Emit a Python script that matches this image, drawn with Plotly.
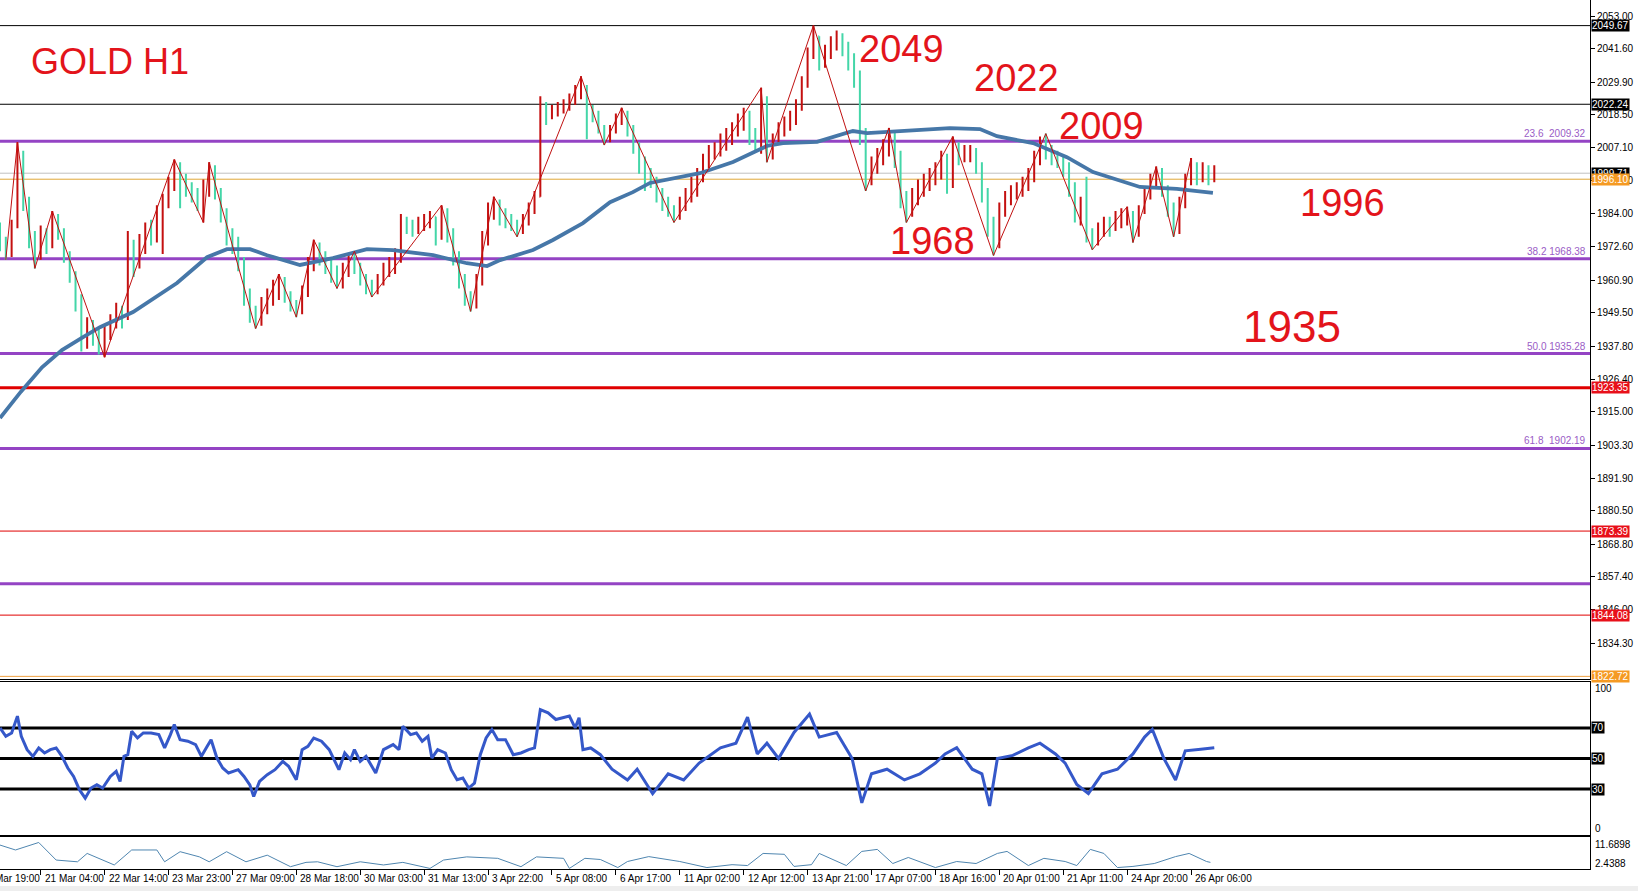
import plotly.graph_objects as go

# ---------------- data ----------------
first_open = 1980
closes = [1974, 1970, 1980, 2005, 1988, 1975, 1970, 1976, 1974, 1982,
          1978, 1970, 1963, 1955, 1940, 1944, 1941, 1938, 1942, 1946,
          1950, 1948, 1972, 1968, 1974, 1978, 1976, 1984, 1988, 1994,
          2001, 1995, 1993, 1991, 1988, 1993, 2000, 1992, 1984, 1976,
          1975, 1968, 1957, 1950, 1947, 1952, 1955, 1958, 1961, 1955,
          1952, 1950, 1956, 1966, 1972, 1969, 1966, 1964, 1961, 1965,
          1968, 1966, 1961, 1959, 1957, 1961, 1964, 1966, 1968, 1982,
          1980, 1979, 1981, 1982, 1983, 1977, 1985, 1978, 1970, 1962,
          1955, 1952, 1960, 1975, 1985, 1988, 1985, 1982, 1980, 1978,
          1982, 1986, 1990, 2020, 2019, 2020, 2021, 2022, 2024, 2027,
          2028, 2020, 2019, 2014, 2010, 2013, 2017, 2019, 2014, 2008,
          2003, 1998, 1995, 1991, 1988, 1985, 1984, 1987, 1990, 1993,
          1998, 2003, 2005, 2007, 2009, 2011, 2014, 2016, 2019, 2013,
          2010, 2024, 2005, 2010, 2013, 2015, 2017, 2022, 2030, 2040,
          2046, 2038, 2040, 2043, 2046, 2042, 2038, 2032, 2012, 1996,
          2001, 2004, 2007, 2012, 2004, 1990, 1984, 1990, 1993, 1995,
          1997, 1999, 2004, 1994, 2008, 2004, 2005, 2006, 2001, 1992,
          1980, 1974, 1985, 1989, 1991, 1992, 1994, 1997, 2003, 2009,
          2006, 2004, 2003, 2001, 1994, 1983, 1986, 1976, 1975, 1978,
          1980, 1979, 1982, 1983, 1984, 1977, 1985, 1990, 1996, 1998,
          1993, 1986, 1979, 1988, 1996, 2000, 1997, 2000, 1996, 1999]
highs = [1981, 1976, 1982, 2009, 2006, 1990, 1978, 1980, 1979, 1985,
         1984, 1979, 1971, 1964, 1956, 1948, 1947, 1944, 1945, 1949,
         1953, 1952, 1978, 1975, 1977, 1981, 1982, 1987, 1991, 1997,
         2003, 2002, 1998, 1995, 1993, 1996, 2002, 2001, 1993, 1986,
         1979, 1976, 1969, 1958, 1952, 1955, 1958, 1961, 1963, 1962,
         1957, 1954, 1959, 1969, 1975, 1974, 1971, 1969, 1966, 1967,
         1970, 1971, 1967, 1963, 1961, 1963, 1967, 1969, 1972, 1984,
         1983, 1982, 1983, 1984, 1985, 1983, 1987, 1986, 1979, 1971,
         1963, 1957, 1963, 1978, 1988, 1990, 1989, 1986, 1984, 1982,
         1984, 1988, 1992, 2025, 2023, 2022, 2023, 2024, 2026, 2029,
         2032, 2029, 2022, 2020, 2015, 2015, 2019, 2021, 2020, 2015,
         2009, 2004, 2000, 1997, 1993, 1990, 1987, 1990, 1993, 1997,
         2000, 2005, 2008, 2009, 2012, 2014, 2016, 2019, 2021, 2020,
         2014, 2028, 2025, 2012, 2016, 2018, 2020, 2024, 2032, 2042,
         2049.7, 2046, 2043, 2046, 2048, 2047, 2044, 2040, 2034, 2014,
         2004, 2007, 2010, 2014, 2013, 2006, 1992, 1993, 1996, 1998,
         2000, 2002, 2006, 2005, 2011, 2009, 2008, 2008, 2007, 2002,
         1993, 1983, 1988, 1992, 1994, 1995, 1997, 2000, 2006, 2011,
         2012, 2008, 2006, 2004, 2002, 1995, 1990, 1997, 1979, 1981,
         1983, 1983, 1985, 1986, 1986.5, 1985, 1987, 1993, 1998, 2000.5,
         2000, 1994, 1988, 1990, 1998, 2003.5, 2002, 2002, 2001, 2001]
lows = [1971, 1968, 1969, 1979, 1985, 1972, 1965, 1968, 1970, 1972,
        1975, 1967, 1960, 1950, 1936, 1937, 1938, 1935, 1934, 1940,
        1944, 1944, 1947, 1962, 1965, 1970, 1973, 1974, 1970, 1986,
        1992, 1986, 1990, 1988, 1985, 1981, 1990, 1989, 1981, 1973,
        1970, 1964, 1952, 1946, 1944, 1945, 1949, 1952, 1954, 1953,
        1950, 1948, 1949, 1955, 1964, 1966, 1963, 1960, 1958, 1958,
        1962, 1963, 1959, 1956, 1955, 1956, 1959, 1962, 1963, 1967,
        1977, 1976, 1977, 1978, 1979, 1973, 1975, 1974, 1966, 1958,
        1952, 1950, 1951, 1959, 1973, 1982, 1980, 1979, 1978, 1976,
        1977, 1980, 1984, 1990, 2015, 2017, 2018, 2019, 2020, 2022,
        2024, 2010, 2016, 2012, 2008, 2009, 2012, 2015, 2011, 2005,
        1998, 1992, 1993, 1988, 1985, 1983, 1981, 1982, 1985, 1988,
        1990, 1995, 2000, 2003, 2004, 2006, 2008, 2011, 2013, 2008,
        2006, 2005, 2002, 2003, 2008, 2011, 2013, 2015, 2020, 2028,
        2038, 2034, 2035, 2038, 2041, 2039, 2034, 2028, 2008, 1992,
        1994, 1998, 2001, 2004, 2000, 1986, 1981, 1983, 1987, 1990,
        1992, 1994, 1996, 1991, 1993, 2001, 2002, 2002, 1998, 1988,
        1976, 1969.5, 1972, 1983, 1987, 1989, 1990, 1992, 1995, 2001,
        2003, 2001, 2000, 1997, 1990, 1981, 1980, 1974, 1971.5, 1973,
        1976, 1976, 1978, 1979, 1980, 1974, 1976, 1984, 1989, 1993,
        1990, 1983, 1976, 1977, 1986, 1994, 1994, 1995, 1994, 1995]
opens = [first_open] + closes[:-1]
bar_start, bar_step = 12, 3
bars = [bar_start + bar_step * i for i in range(len(closes))]

zz_idx = [1, 3, 6, 9, 18, 30, 35, 36, 44, 48, 51, 54, 58, 61, 64, 76, 81, 85, 89, 100,
          104, 107, 116, 131, 132, 140, 149, 153, 156, 164, 171, 180, 188, 194, 195, 199, 202, 205]
zz_kind = "LHLHLHLHLHLHLHLHLHLHLHLHLHLHLHLHLHLHLH"

ma_bar = [12, 22.8, 33.7, 44.0, 54.9, 63.6, 80.7, 103.4, 118.9, 129.2, 141.1, 149.9, 166.9,
          183.9, 201.5, 214.9, 235.6, 253.1, 263.5, 270.2, 287.2, 297.5, 313.0, 327.0, 338.8,
          347.6, 373.4, 390.5, 408.0, 416.3, 433.9, 442.1, 452.4, 459.7, 476.7, 502.5, 518.0,
          526.8, 545.4, 562.9, 576.4, 588.8, 600.6, 619.7, 638.3]
ma_val = [1912.8, 1922.0, 1930.5, 1936.5, 1941.0, 1944.5, 1949.8, 1959.9, 1968.9, 1971.7,
          1971.7, 1969.6, 1966.2, 1968.6, 1971.7, 1971.4, 1969.6, 1966.8, 1965.8, 1967.9,
          1971.4, 1974.9, 1980.8, 1988.1, 1991.6, 1994.8, 1998.2, 2002.1, 2007.7, 2008.7,
          2009.1, 2010.8, 2012.9, 2012.2, 2012.9, 2013.9, 2013.6, 2011.1, 2008.7, 2003.8,
          1998.6, 1996.1, 1993.4, 1992.7, 1991.3]

rsi_bar = [12, 15, 18, 21, 23, 26, 29, 32, 35, 38, 41, 44, 47, 50, 53, 56, 59, 62, 65, 69,
           72, 74, 76, 78, 80, 83, 86, 90, 94, 97, 100, 102, 105, 109, 113, 116, 119, 121, 124,
           127, 130, 135, 138, 141, 143, 146, 150, 154, 158, 161, 165, 168, 171, 174, 178, 182,
           187, 190, 193, 195, 198, 201, 206, 210, 215, 218, 220, 224, 227, 230, 233, 235, 238,
           242, 245, 248, 251, 254, 257, 260, 263, 266, 269, 273, 277, 281, 285, 288, 291, 295,
           299, 302, 306, 309, 311, 313, 317, 322, 328, 336, 341, 349, 357, 365, 373, 384, 392,
           398, 403, 408, 414, 422, 430, 435, 444, 452, 457, 462, 470, 479, 487, 495, 500, 506,
           514, 519, 523, 527, 535, 543, 549, 557, 562, 568, 574, 581, 589, 597, 603, 607, 613,
           619, 624, 632, 639]
rsi_val = [70, 64.5, 66.7, 77.7, 64.5, 55.8, 51.4, 56.9, 53.6, 55.8, 56.9, 51.4, 43.8, 38.3,
           29.6, 24.1, 30.7, 32.8, 30.7, 38.3, 41.6, 35, 51.4, 52.5, 67.8, 63.4, 66.7, 66.7,
           65.6, 56.9, 65.6, 72.2, 62.3, 61.3, 59.1, 51.4, 58, 62.3, 50.3, 43.8, 40.5, 42.7,
           38.3, 32.8, 25.2, 35, 39.4, 42.7, 48.1, 44.9, 36.1, 55.8, 58, 63.4, 61.3, 55.8, 42.7,
           53.6, 49.2, 55.8, 48.1, 51.4, 40.5, 55.8, 59.1, 55.8, 71.1, 65.6, 66.7, 61.3, 64.5,
           50.3, 55.8, 53.6, 42.7, 36.1, 37.2, 30.7, 33.9, 52.5, 63.4, 68.9, 62.3, 62.3, 52.5,
           53.6, 55.8, 56.9, 82, 79.8, 75.5, 76.6, 77.7, 70, 76.6, 55.8, 56.9, 52.5, 43, 36, 43,
           27, 40, 36, 47, 57, 60, 77, 53, 60, 50, 67, 79, 64, 67, 50, 21, 40, 43, 36, 40, 47,
           53, 57, 43, 40, 19, 50, 52, 57, 60, 53, 47, 33, 27, 40, 43, 53, 64, 69, 50, 36, 55,
           56, 57]

atr_bar = [12, 20, 32, 41, 52, 57, 71, 80, 93, 97, 105, 115, 120, 129, 139, 150, 162, 170,
           176, 186, 198, 210, 220, 234, 241, 253, 269, 281, 289, 303, 306, 314, 322, 331, 336,
           347, 363, 377, 390, 398, 406, 417, 422, 431, 435, 449, 457, 465, 473, 481, 495, 506,
           516, 527, 532, 543, 551, 562, 568, 575, 582, 589, 597, 608, 619, 626, 635, 637]
atr_val = [10.3, 8.6, 11.2, 5.1, 4.5, 7.4, 3.4, 8.6, 8.6, 4.5, 8.0, 6.2, 4.5, 8.0, 4.5, 6.8,
           2.8, 4.3, 4.5, 2.8, 4.5, 3.4, 4.3, 2.2, 5.1, 6.2, 5.7, 2.8, 6.2, 5.7, 2.2, 5.7, 5.3,
           2.5, 4.6, 6.3, 4.6, 2.5, 3.5, 3.2, 7.4, 7.1, 2.9, 3.5, 7.4, 3.2, 8.1, 8.8, 3.9, 6.0,
           2.5, 4.6, 3.9, 7.4, 8.1, 3.2, 5.7, 4.6, 3.2, 8.8, 7.4, 2.5, 2.9, 3.9, 6.3, 7.4, 4.6,
           4.3]

time_labels = ["17 Mar 19:00", "21 Mar 04:00", "22 Mar 14:00", "23 Mar 23:00", "27 Mar 09:00",
               "28 Mar 18:00", "30 Mar 03:00", "31 Mar 13:00", "3 Apr 22:00", "5 Apr 08:00",
               "6 Apr 17:00", "11 Apr 02:00", "12 Apr 12:00", "13 Apr 21:00", "17 Apr 07:00",
               "18 Apr 16:00", "20 Apr 01:00", "21 Apr 11:00", "24 Apr 20:00", "26 Apr 06:00"]
bars_per_label = 33
label_bars = [bars_per_label * i for i in range(len(time_labels))]

price_ticks = [2053.00, 2041.60, 2029.90, 2018.50, 2007.10, 1995.70, 1984.00, 1972.60,
               1960.90, 1949.50, 1937.80, 1926.40, 1915.00, 1903.30, 1891.90, 1880.50,
               1868.80, 1857.40, 1846.00, 1834.30]

fib_levels = [2009.32, 1968.38, 1935.28, 1902.19]
fib_names = ["23.6\u00a0\u00a0", "38.2 ", "50.0 ", "61.8\u00a0\u00a0"]
extra_purple = [1855.0]
black_levels = [2049.67, 2022.24]
ask_label = "1999.71"
ask_line = 1998.2
gold_level = 1996.10
red_thick = 1923.35
red_thin = [1873.39, 1844.08]
orange_low = 1822.72

rsi_levels = [70, 50, 30]

big_labels = ["2049", "2022", "2009", "1968", "1996", "1935"]

# ---------------- layout geometry ----------------
W, H = 1638, 891
PW = 1590  # plot area width (px)
def pxx(px):
    return px / PW
def pyy(py):
    return 1 - py / H

X_RANGE = [12, 833]
main_dom = [pyy(679), 1.0]
rsi_dom = [pyy(835), pyy(682)]
atr_dom = [pyy(869), pyy(837)]

PURPLE = "#9444c4"
RED = "#e3141b"
FONT = "Liberation Sans"

fig = go.Figure()

fig.add_trace(go.Scatter(x=ma_bar, y=ma_val, mode="lines",
                         line=dict(color="#4677a8", width=3.8), xaxis="x", yaxis="y",
                         hoverinfo="skip"))
fig.add_trace(go.Ohlc(x=bars, open=opens, high=highs, low=lows, close=closes,
                      increasing=dict(line=dict(color="#c41010", width=2)),
                      decreasing=dict(line=dict(color="#44d6a8", width=2)),
                      tickwidth=0.15, xaxis="x", yaxis="y"))
zz_x = [bars[i] for i in zz_idx]
zz_y = [highs[i] if k == "H" else lows[i] for i, k in zip(zz_idx, zz_kind)]
fig.add_trace(go.Scatter(x=zz_x, y=zz_y, mode="lines",
                         line=dict(color="#c01010", width=1), xaxis="x", yaxis="y"))
fig.add_trace(go.Scatter(x=rsi_bar, y=rsi_val, mode="lines",
                         line=dict(color="#3558c9", width=3), xaxis="x2", yaxis="y2"))
fig.add_trace(go.Scatter(x=atr_bar, y=atr_val, mode="lines",
                         line=dict(color="#4f86b0", width=1), xaxis="x3", yaxis="y3"))

shapes = []
def hline(v, color, width, yref="y"):
    shapes.append(dict(type="line", xref="paper", x0=0, x1=1, yref=yref, y0=v, y1=v,
                       line=dict(color=color, width=width), layer="below"))

for v in black_levels:
    hline(v, "black", 1)
hline(ask_line, "#c0c0c0", 1)
hline(gold_level, "#e0a838", 1)
for v in fib_levels + extra_purple:
    hline(v, PURPLE, 3)
hline(red_thick, "#e00000", 3)
for v in red_thin:
    hline(v, "#e00000", 1)
hline(orange_low, "#f0a040", 1)
for v in rsi_levels:
    hline(v, "black", 3, yref="y2")
shapes.append(dict(type="rect", xref="paper", yref="paper", x0=-0.01, x1=W / PW, y0=0,
                   y1=5 / H, fillcolor="#eeeeee", line=dict(width=0), layer="below"))

ann = []
# price boxes
def pbox(v, bg, txt=None):
    ann.append(dict(xref="paper", x=1, xanchor="left", xshift=1, yref="y", y=v,
                    yanchor="middle", text=txt or f"{v:.2f}", showarrow=False,
                    bgcolor=bg, borderpad=0,
                    font=dict(family=FONT, size=10, color="white")))
for v in black_levels:
    pbox(v, "black")
pbox(ask_line, "black", ask_label)
pbox(gold_level, "#f59a23")
pbox(red_thick, "#e8101a")
for v in red_thin:
    pbox(v, "#e8101a")
pbox(orange_low, "#f59a23")

for v, n in zip(fib_levels, fib_names):
    ann.append(dict(xref="paper", x=1, xanchor="right", xshift=-2, yref="y", y=v,
                    yanchor="bottom", yshift=0, text=f"{n}{v:.2f}", showarrow=False,
                    font=dict(family=FONT, size=10, color="#9a5cc6")))

for v in rsi_levels:
    ann.append(dict(xref="paper", x=1, xanchor="left", xshift=1, yref="y2", y=v,
                    yanchor="middle", text=str(v), showarrow=False, bgcolor="black",
                    borderpad=0, font=dict(family=FONT, size=10, color="white")))
for txt, py in [("100", 688), ("0", 828), ("11.6898", 844), ("2.4388", 863)]:
    ann.append(dict(xref="paper", x=1, xanchor="left", xshift=3, yref="paper", y=pyy(py),
                    yanchor="middle", text=txt, showarrow=False,
                    font=dict(family=FONT, size=10, color="black")))

span = X_RANGE[1] - X_RANGE[0]
for b, t in zip(label_bars, time_labels):
    ann.append(dict(xref="paper", x=(b + 1 - X_RANGE[0]) / span, xanchor="left",
                    yref="paper", y=pyy(878), yanchor="middle", text=t, showarrow=False,
                    font=dict(family=FONT, size=10, color="black")))

ann.append(dict(xref="paper", x=pxx(29), xanchor="left", yref="paper", y=pyy(61),
                yanchor="middle", text="GOLD H1", showarrow=False,
                font=dict(family=FONT, size=36, color=RED)))
big_pos = [(857, 49, 38), (972, 78, 38), (1057, 126, 38), (888, 241, 38), (1298, 203, 38),
           (1241, 326, 44)]
for t, (px, py, fs) in zip(big_labels, big_pos):
    ann.append(dict(xref="paper", x=pxx(px), xanchor="left", yref="paper", y=pyy(py),
                    yanchor="middle", text=t, showarrow=False,
                    font=dict(family=FONT, size=fs, color=RED)))

axis_common = dict(showgrid=False, zeroline=False, linecolor="black", linewidth=1)
fig.update_layout(
    width=W, height=H, margin=dict(l=0, r=W - PW, t=0, b=0),
    paper_bgcolor="white", plot_bgcolor="white", showlegend=False,
    xaxis=dict(domain=[0, 1], range=X_RANGE, anchor="y", showticklabels=False, showline=True,
               rangeslider=dict(visible=False), ticks="", **axis_common),
    yaxis=dict(domain=main_dom, range=[1821.8, 2058.6], side="right", anchor="x",
               showline=True, tickvals=price_ticks, ticktext=[f"{v:.2f}" for v in price_ticks],
               ticks="outside", ticklen=4, tickcolor="black",
               tickfont=dict(family=FONT, size=10, color="black"), **axis_common),
    xaxis2=dict(domain=[0, 1], range=X_RANGE, anchor="y2", showticklabels=False,
                showline=True, mirror=True, ticks="", **axis_common),
    yaxis2=dict(domain=rsi_dom, range=[0, 100], side="right", anchor="x2", showline=True,
                showticklabels=False, ticks="", **axis_common),
    xaxis3=dict(domain=[0, 1], range=X_RANGE, anchor="y3", showticklabels=False,
                showline=True, mirror=True, ticks="outside", ticklen=5, tickcolor="black",
                tickvals=label_bars, **axis_common),
    yaxis3=dict(domain=atr_dom, range=[2.0, 13.1], side="right", anchor="x3", showline=True,
                showticklabels=False, ticks="", **axis_common),
    shapes=shapes, annotations=ann,
)

fig.write_html("out.html", config={"displayModeBar": False},
               post_script="document.body.style.margin='0px';")
